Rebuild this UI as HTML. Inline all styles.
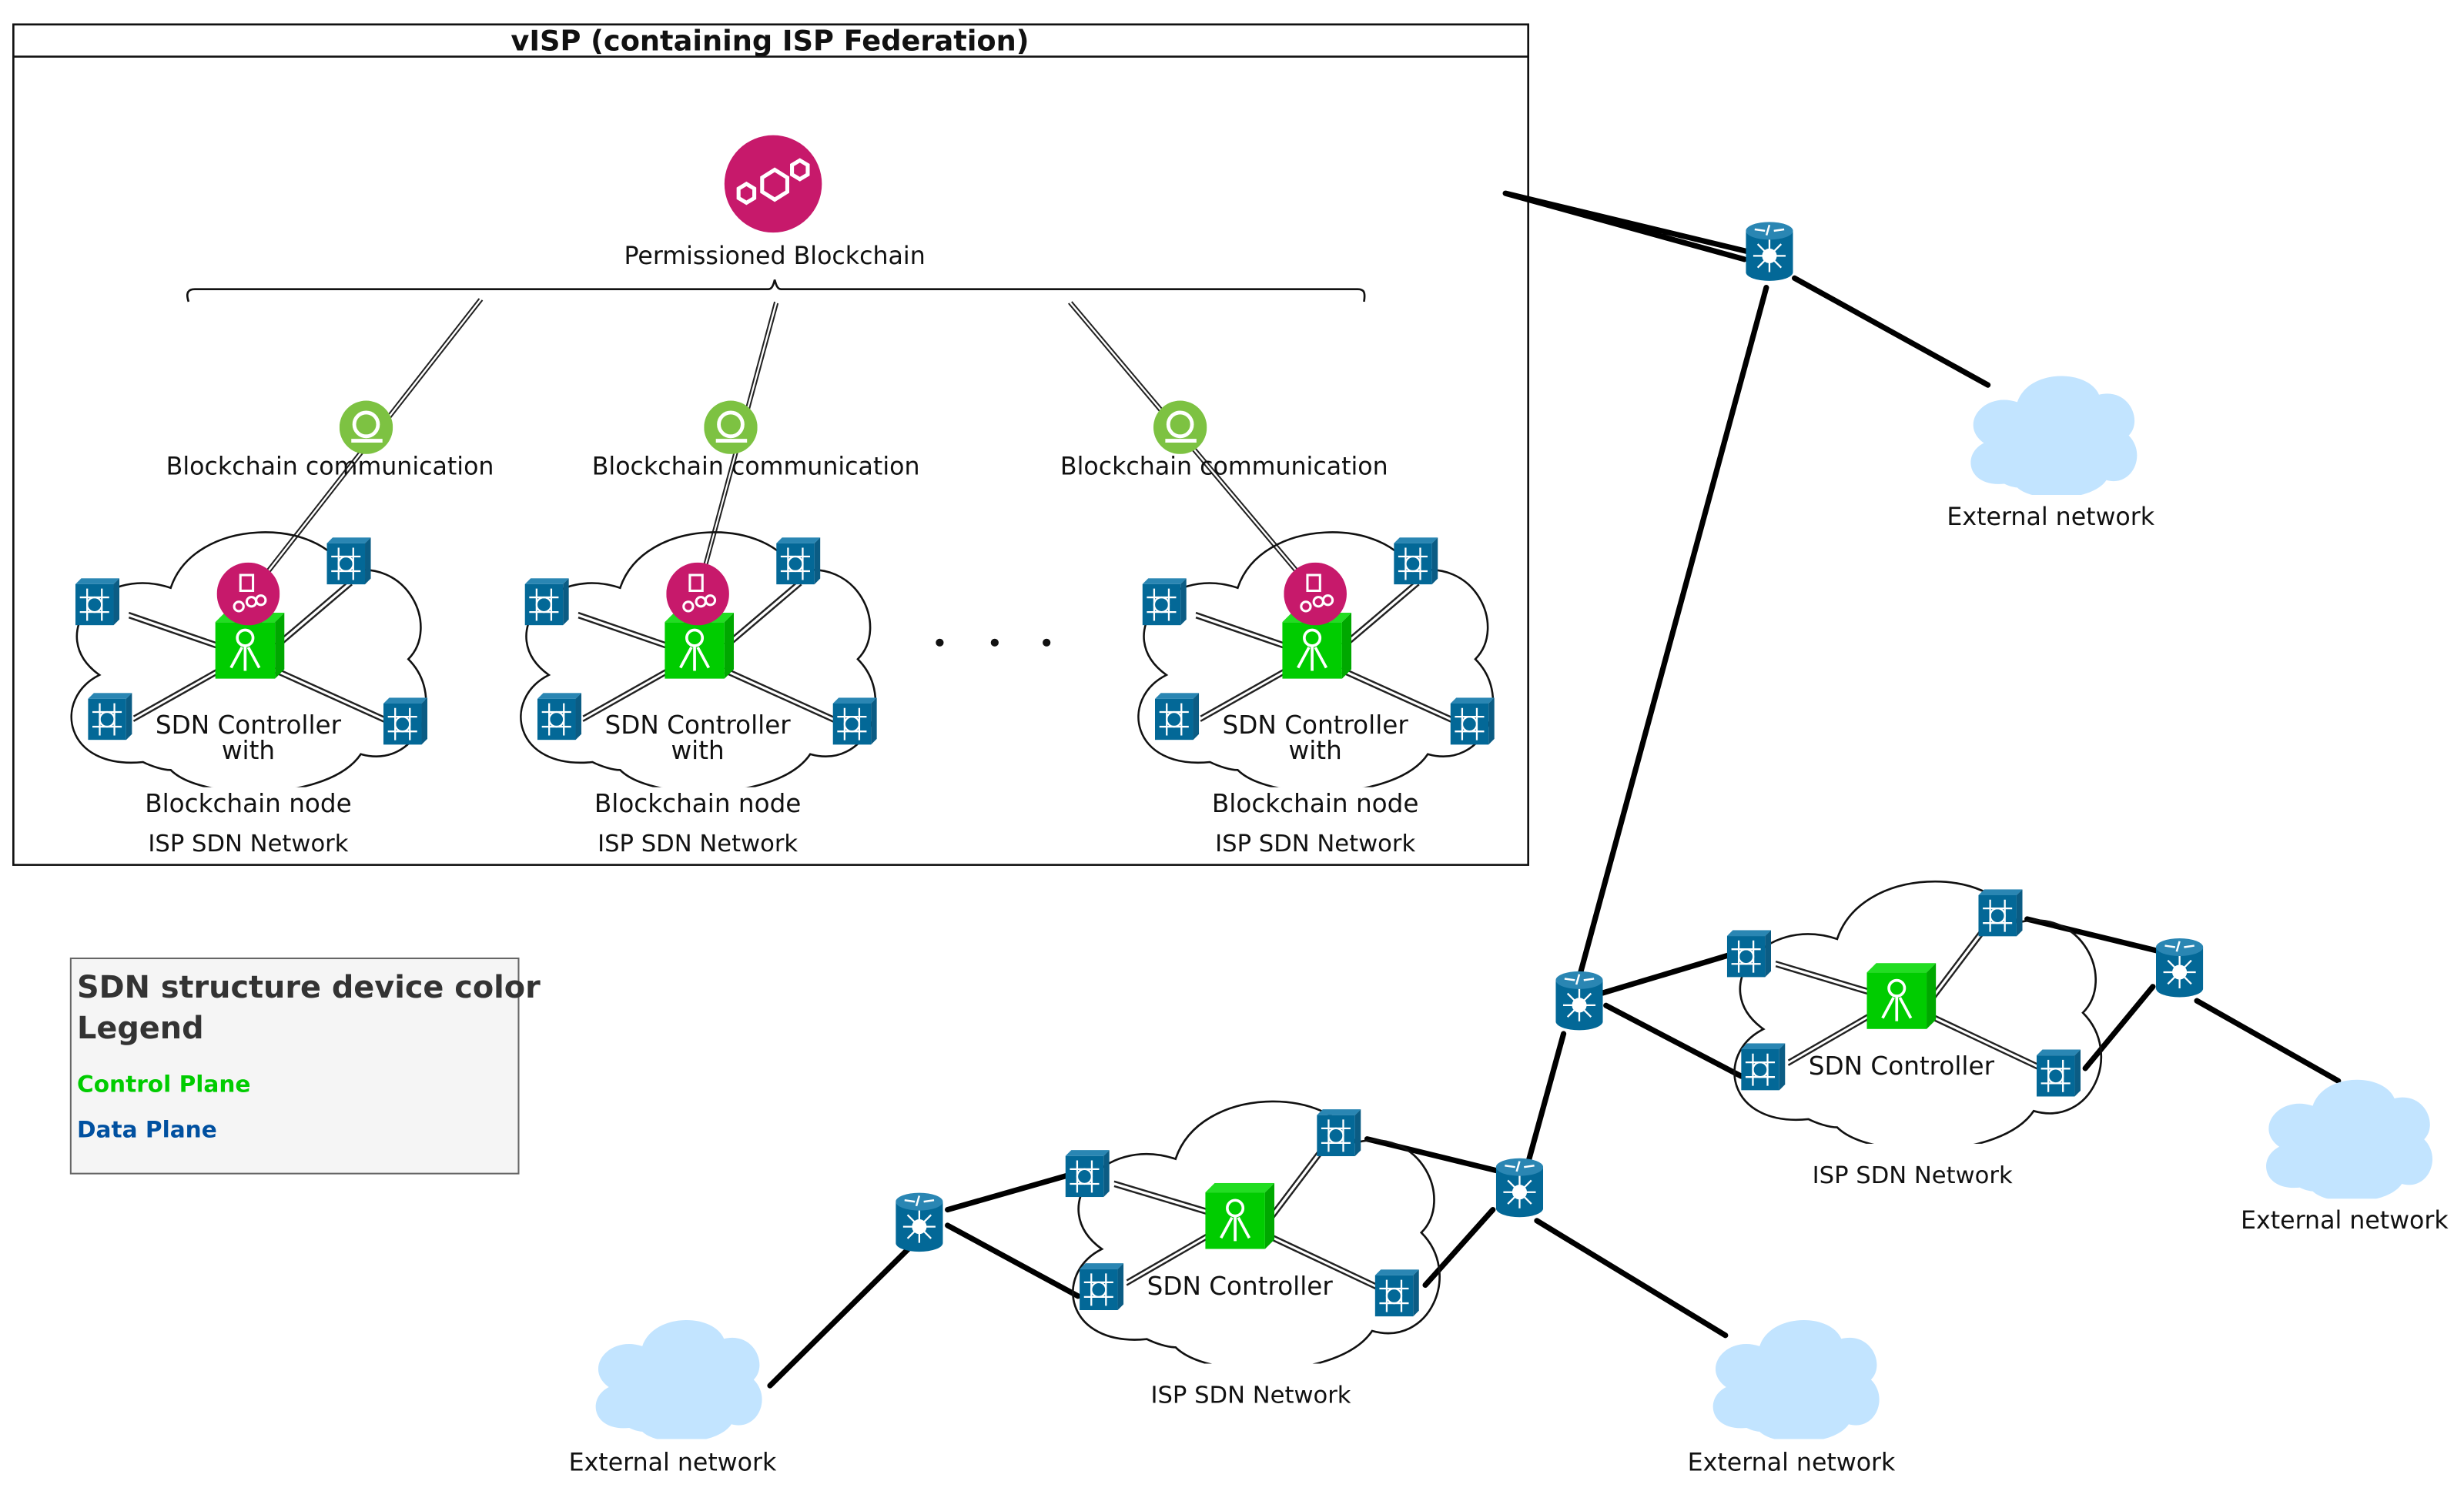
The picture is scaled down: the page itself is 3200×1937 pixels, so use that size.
<!DOCTYPE html>
<html><head><meta charset="utf-8"><style>
html,body{margin:0;padding:0;background:#fff}
svg{display:block}
text{font-family:"DejaVu Sans","Liberation Sans",sans-serif;fill:#111}
</style></head><body>
<svg width="3200" height="1937" viewBox="0 0 1568 949" xmlns="http://www.w3.org/2000/svg">
<defs>
<symbol id="sw" viewBox="0 0 30 32">
<path d="M4,0 L30,0 L26,4 L0,4 Z" fill="#2A86B3"/>
<path d="M26,4 L30,0 L30,28 L26,32 Z" fill="#0B5C84"/>
<rect x="0" y="4" width="26" height="28" fill="#036897"/>
<g stroke="#fff" stroke-width="1.2" fill="none">
<circle cx="13" cy="18" r="5"/>
<line x1="3" y1="13" x2="23" y2="13"/><line x1="3" y1="23" x2="23" y2="23"/>
<line x1="8" y1="7" x2="8" y2="29"/><line x1="18" y1="7" x2="18" y2="29"/>
</g>
</symbol>
<symbol id="rt" viewBox="0 0 32 40">
<path d="M0,6 L0,34 A16,6 0 0 0 32,34 L32,6 Z" fill="#036897"/>
<ellipse cx="16" cy="6" rx="16" ry="6" fill="#2A86B3"/>
<g stroke="#fff" stroke-width="1.3"><line x1="6" y1="5" x2="13" y2="6"/><line x1="19" y1="6" x2="26" y2="5"/><line x1="16" y1="2" x2="14" y2="9"/></g>
<circle cx="16" cy="23" r="5" fill="#fff"/>
<g stroke="#fff" stroke-width="1.2"><line x1="16" y1="12" x2="16" y2="34"/><line x1="5" y1="23" x2="27" y2="23"/><line x1="8" y1="15" x2="24" y2="31"/><line x1="24" y1="15" x2="8" y2="31"/></g>
</symbol>
<symbol id="ctl" viewBox="0 0 44 42">
<path d="M6,0 L44,0 L38,6 L0,6 Z" fill="#22DD22"/>
<path d="M38,6 L44,0 L44,36 L38,42 Z" fill="#00A800"/>
<rect x="0" y="6" width="38" height="36" fill="#00CC00"/>
<g stroke="#fff" stroke-width="1.8" fill="none"><circle cx="19" cy="16" r="5"/><line x1="19" y1="21" x2="19" y2="37"/><line x1="17" y1="22" x2="10" y2="35"/><line x1="21" y1="22" x2="28" y2="35"/></g>
</symbol>
<symbol id="cl" viewBox="0 0 100 66">
<path d="M25,60 C5,62 2,44 14,38 C0,28 14,10 32,16 C38,-2 70,-2 76,12 C92,8 100,26 92,34 C102,44 94,62 80,58 C72,70 40,70 32,62 C30,62 27,61 25,60 Z"/>
</symbol>
<symbol id="bc" viewBox="0 0 40 40">
<circle cx="20" cy="20" r="20" fill="#C7196B"/>
<g stroke="#fff" stroke-width="1.5" fill="none"><rect x="15" y="8" width="8" height="10"/><circle cx="14" cy="28" r="3"/><circle cx="22" cy="25" r="3"/><circle cx="28" cy="24" r="3"/></g>
</symbol>
<symbol id="gc" viewBox="0 0 36 36">
<circle cx="18" cy="18" r="18" fill="#7DC242"/>
<circle cx="18" cy="16" r="8" fill="none" stroke="#fff" stroke-width="2.5"/>
<line x1="8" y1="27" x2="29" y2="27" stroke="#fff" stroke-width="2.5"/>
</symbol>
</defs>

<!-- frame -->
<rect x="8.5" y="15.5" width="964" height="535" fill="none" stroke="#111" stroke-width="1.3"/>
<line x1="8" y1="36" x2="973" y2="36" stroke="#111" stroke-width="1.3"/>
<text x="490" y="32" font-size="18" font-weight="bold" text-anchor="middle">vISP (containing ISP Federation)</text>

<circle cx="492" cy="117" r="31" fill="#C7196B"/>
<g stroke="#fff" stroke-width="2.5" fill="none"><path d="M485,113 l8,-5 l8,5 v9 l-8,5 l-8,-5 Z"/><path d="M470,120 l5,-3 l5,3 v6 l-5,3 l-5,-3 Z"/><path d="M504,105 l5,-3 l5,3 v6 l-5,3 l-5,-3 Z"/></g>
<text x="493" y="168" font-size="15.5" text-anchor="middle">Permissioned Blockchain</text>
<path d="M120,192 C118,186 120,184 124,184 L489,184 C491,184 492,182 493,178 C494,182 495,184 497,184 L864,184 C868,184 869,186 868,192" fill="none" stroke="#111" stroke-width="1.3"/>

<g stroke="#222" stroke-width="1" fill="none">
<path d="M305,190 L158,378 M307,191 L160,379"/>
<path d="M493,192 L443,378 M495,193 L445,378"/>
<path d="M680,193 L836,378 M682,192 L838,377"/>
</g>

<use href="#gc" x="216" y="255" width="34" height="34"/>
<use href="#gc" x="448" y="255" width="34" height="34"/>
<use href="#gc" x="734" y="255" width="34" height="34"/>
<text x="210" y="302" font-size="15.5" text-anchor="middle">Blockchain communication</text>
<text x="481" y="302" font-size="15.5" text-anchor="middle">Blockchain communication</text>
<text x="779" y="302" font-size="15.5" text-anchor="middle">Blockchain communication</text>

<!-- clusters in frame -->
<g id="c1">
<use href="#cl" x="28" y="333" width="252" height="168" fill="none" stroke="#111" stroke-width="0.5"/>
<g stroke="#222" stroke-width="1.2">
<path d="M82,390 L140,410 M82,393 L140,413"/><path d="M222,370 L175,410 M224,372 L177,412"/>
<path d="M85,456 L140,425 M85,459 L140,428"/><path d="M248,458 L175,425 M248,461 L175,428"/>
</g>
<use href="#sw" x="48" y="368" width="28" height="30"/>
<use href="#sw" x="208" y="342" width="28" height="30"/>
<use href="#sw" x="56" y="441" width="28" height="30"/>
<use href="#sw" x="244" y="444" width="28" height="30"/>
<use href="#ctl" x="137" y="390" width="44" height="42"/>
<use href="#bc" x="138" y="358" width="40" height="40"/>
<text x="158" y="467" font-size="16" text-anchor="middle">SDN Controller</text>
<text x="158" y="483" font-size="16" text-anchor="middle">with</text>
<text x="158" y="517" font-size="16" text-anchor="middle">Blockchain node</text>
<text x="158" y="542" font-size="15" text-anchor="middle">ISP SDN Network</text>
</g>
<use href="#c1" x="286" y="0"/>
<use href="#c1" x="679" y="0"/>
<circle cx="598" cy="409" r="2.5" fill="#111"/><circle cx="633" cy="409" r="2.5" fill="#111"/><circle cx="666" cy="409" r="2.5" fill="#111"/>

<!-- legend -->
<rect x="45" y="610" width="285" height="137" fill="#f5f5f5" stroke="#666"/>
<text x="49" y="635" font-size="19.5" font-weight="bold" style="fill:#333" font-family="Liberation Sans">SDN structure device color</text>
<text x="49" y="661" font-size="19.5" font-weight="bold" style="fill:#333" font-family="Liberation Sans">Legend</text>
<text x="49" y="695" font-size="14.5" font-weight="bold" style="fill:#00CC00">Control Plane</text>
<text x="49" y="724" font-size="14.5" font-weight="bold" style="fill:#0050A0">Data Plane</text>

<!-- thick links -->
<g stroke="#000" stroke-width="3.5" fill="none" stroke-linecap="round">
<path d="M958,123 L1112,160 M958,123 L1110,165"/>
<path d="M1142,177 L1265,245"/>
<path d="M1124,183 L1005,622"/>
<path d="M1020,632 L1100,608"/><path d="M1022,640 L1108,685"/>
<path d="M1290,585 L1372,605"/><path d="M1327,680 L1370,628"/>
<path d="M1398,637 L1488,688"/>
<path d="M995,658 L973,738"/>
<path d="M870,725 L952,745"/><path d="M907,818 L950,770"/>
<path d="M978,777 L1098,850"/>
<path d="M603,770 L680,748"/><path d="M603,780 L686,825"/>
<path d="M578,795 L490,882"/>
</g>

<use href="#rt" x="1111" y="141" width="30" height="38"/>
<use href="#rt" x="990" y="618" width="30" height="38"/>
<use href="#rt" x="1372" y="597" width="30" height="38"/>
<use href="#rt" x="952" y="737" width="30" height="38"/>
<use href="#rt" x="570" y="759" width="30" height="38"/>

<!-- external clouds -->
<g fill="#C2E4FF">
<use href="#cl" x="1242" y="237" width="126" height="78"/>
<use href="#cl" x="1430" y="685" width="126" height="78"/>
<use href="#cl" x="1078" y="838" width="126" height="78"/>
<use href="#cl" x="367" y="838" width="126" height="78"/>
</g>
<text x="1305" y="334" font-size="15.5" text-anchor="middle">External network</text>
<text x="1492" y="782" font-size="15.5" text-anchor="middle">External network</text>
<text x="1140" y="936" font-size="15.5" text-anchor="middle">External network</text>
<text x="428" y="936" font-size="15.5" text-anchor="middle">External network</text>

<!-- cluster 4 -->
<g id="c4">
<use href="#cl" x="1080" y="556" width="272" height="172" fill="none" stroke="#111" stroke-width="0.5"/>
<g stroke="#222" stroke-width="1.2">
<path d="M1130,612 L1190,630 M1130,615 L1190,633"/><path d="M1262,590 L1228,635 M1264,592 L1230,637"/>
<path d="M1138,675 L1190,645 M1138,678 L1190,648"/><path d="M1298,678 L1228,645 M1298,681 L1228,648"/>
</g>
<use href="#sw" x="1099" y="592" width="28" height="30"/>
<use href="#sw" x="1259" y="566" width="28" height="30"/>
<use href="#sw" x="1108" y="664" width="28" height="30"/>
<use href="#sw" x="1296" y="668" width="28" height="30"/>
<use href="#ctl" x="1188" y="613" width="44" height="42"/>
<text x="1210" y="684" font-size="16" text-anchor="middle">SDN Controller</text>
<text x="1217" y="753" font-size="15" text-anchor="middle">ISP SDN Network</text>
</g>
<use href="#c4" x="-421" y="140"/>
</svg>
</body></html>
